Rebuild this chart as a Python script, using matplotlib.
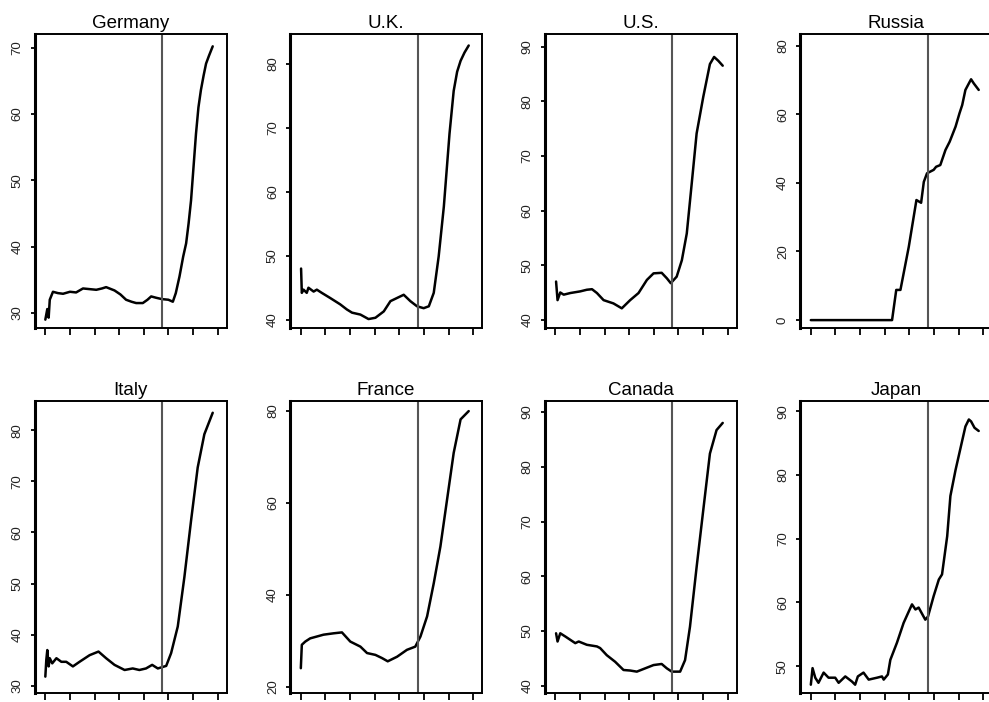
import matplotlib
matplotlib.use("Agg")
import matplotlib.pyplot as plt

plt.rcParams["font.family"] = ["Liberation Sans", "DejaVu Sans"]

countries = ["Germany", "U.K.", "U.S.", "Russia", "Italy", "France", "Canada", "Japan"]

# x is in tick units (ticks at 0..7), cutoff marked by the vertical line
cutoff = 4.74

germany_x = [0, 0.08, 0.135, 0.18, 0.31, 0.51, 0.72, 1.0, 1.25, 1.53, 1.8, 2.07, 2.3, 2.47,
             2.81, 3.05, 3.28, 3.5, 3.69, 3.96, 4.15, 4.30, 4.50, 4.73, 5.0, 5.18, 5.30, 5.45,
             5.60, 5.72, 5.82, 5.92, 6.02, 6.12, 6.22, 6.32, 6.43, 6.53, 6.65, 6.80]
germany_y = [29.0, 30.6, 29.3, 32.0, 33.2, 33.0, 32.9, 33.2, 33.1, 33.7, 33.6, 33.5, 33.7, 33.9,
             33.4, 32.8, 32.0, 31.7, 31.5, 31.5, 32.0, 32.5, 32.3, 32.1, 32.0, 31.7, 33.0, 35.5,
             38.5, 40.5, 43.5, 47.0, 52.0, 57.0, 61.0, 63.6, 65.8, 67.6, 68.8, 70.2]

uk_x = [0.01, 0.04, 0.11, 0.24, 0.31, 0.52, 0.65, 0.85, 1.19, 1.60, 1.87, 2.08, 2.42, 2.75,
        3.03, 3.37, 3.64, 3.91, 4.18, 4.45, 4.72, 4.99, 5.20, 5.40, 5.60, 5.81, 6.04, 6.21,
        6.35, 6.49, 6.65, 6.82]
uk_y = [48.0, 44.2, 44.7, 44.2, 45.0, 44.4, 44.7, 44.2, 43.4, 42.4, 41.6, 41.1, 40.8, 40.1,
        40.3, 41.3, 42.9, 43.4, 43.9, 42.9, 42.1, 41.8, 42.1, 44.2, 49.9, 57.7, 69.1, 75.8,
        78.8, 80.5, 81.8, 82.9]

us_x = [0.03, 0.09, 0.20, 0.34, 0.61, 1.01, 1.28, 1.49, 1.69, 1.96, 2.36, 2.70, 3.04, 3.38,
        3.72, 3.99, 4.32, 4.53, 4.69, 4.93, 5.14, 5.34, 5.54, 5.74, 6.01, 6.28, 6.45, 6.62, 6.80]
us_y = [47.0, 43.6, 45.0, 44.6, 44.9, 45.2, 45.5, 45.6, 44.9, 43.6, 43.0, 42.1, 43.6, 44.9,
        47.3, 48.5, 48.6, 47.6, 46.7, 47.9, 50.9, 55.8, 64.9, 74.1, 80.8, 86.8, 88.1, 87.4, 86.5]

russia_x = [0, 3.30, 3.47, 3.64, 3.98, 4.29, 4.48, 4.59, 4.72, 4.99, 5.09, 5.26, 5.47, 5.64,
            5.88, 6.04, 6.15, 6.28, 6.42, 6.51, 6.62, 6.82]
russia_y = [0.0, 0.0, 8.8, 8.8, 21.4, 35.0, 34.2, 40.3, 42.8, 43.8, 44.7, 45.2, 49.6, 52.0,
            56.4, 60.3, 62.7, 67.1, 69.0, 70.2, 69.0, 67.1]

italy_x = [0, 0.04, 0.08, 0.135, 0.18, 0.28, 0.45, 0.65, 0.85, 1.12, 1.39, 1.80, 2.16, 2.47,
           2.81, 3.22, 3.55, 3.82, 4.09, 4.34, 4.57, 4.91, 5.11, 5.38, 5.65, 5.92, 6.19, 6.46, 6.80]
italy_y = [31.8, 35.1, 37.0, 33.8, 35.4, 34.4, 35.4, 34.7, 34.7, 33.8, 34.7, 36.0, 36.7, 35.4,
           34.1, 33.1, 33.4, 33.1, 33.4, 34.1, 33.4, 33.9, 36.4, 41.6, 51.3, 62.3, 72.7, 79.2, 83.4]

france_x = [0, 0.04, 0.18, 0.38, 0.65, 0.92, 1.33, 1.67, 2.01, 2.42, 2.69, 3.03, 3.30, 3.53,
            3.91, 4.31, 4.65, 4.86, 5.13, 5.40, 5.67, 5.94, 6.21, 6.49, 6.82]
france_y = [24.0, 29.1, 29.8, 30.5, 30.9, 31.3, 31.6, 31.8, 29.8, 28.7, 27.3, 26.9, 26.2, 25.5,
            26.5, 28.0, 28.7, 30.9, 35.3, 42.5, 50.5, 60.7, 70.9, 78.2, 80.0]

canada_x = [0.03, 0.09, 0.20, 0.41, 0.61, 0.81, 0.95, 1.28, 1.69, 1.82, 2.09, 2.43, 2.77, 3.04,
            3.31, 3.65, 3.99, 4.32, 4.53, 4.73, 5.07, 5.27, 5.47, 5.74, 6.01, 6.28, 6.55, 6.80]
canada_y = [49.6, 48.1, 49.6, 49.0, 48.4, 47.8, 48.1, 47.5, 47.2, 46.9, 45.6, 44.4, 42.9, 42.8,
            42.6, 43.2, 43.8, 44.0, 43.2, 42.6, 42.6, 44.7, 50.8, 61.7, 72.1, 82.4, 86.7, 88.0]

japan_x = [0, 0.07, 0.18, 0.31, 0.52, 0.72, 0.99, 1.13, 1.40, 1.67, 1.80, 1.91, 2.14, 2.35,
           2.69, 2.89, 2.96, 3.13, 3.23, 3.50, 3.77, 3.98, 4.11, 4.25, 4.38, 4.65, 4.76, 4.99,
           5.20, 5.33, 5.54, 5.67, 5.88, 6.08, 6.28, 6.42, 6.51, 6.65, 6.82]
japan_y = [47.1, 49.7, 48.2, 47.4, 49.0, 48.2, 48.2, 47.4, 48.4, 47.6, 47.1, 48.4, 49.0, 47.9,
           48.2, 48.4, 47.9, 48.7, 51.0, 53.7, 56.8, 58.6, 59.7, 58.9, 59.2, 57.3, 57.8, 61.0,
           63.6, 64.4, 70.4, 76.7, 80.8, 84.2, 87.6, 88.7, 88.4, 87.4, 86.9]

series_x = [germany_x, uk_x, us_x, russia_x, italy_x, france_x, canada_x, japan_x]
series_y = [germany_y, uk_y, us_y, russia_y, italy_y, france_y, canada_y, japan_y]

y_ticks = [
    [30, 40, 50, 60, 70],
    [40, 50, 60, 70, 80],
    [40, 50, 60, 70, 80, 90],
    [0, 20, 40, 60, 80],
    [30, 40, 50, 60, 70, 80],
    [20, 40, 60, 80],
    [40, 50, 60, 70, 80, 90],
    [50, 60, 70, 80, 90],
]
y_limits = [
    (27.74, 72.06), (38.7, 84.7), (38.5, 92.3), (-2.3, 83.4),
    (28.6, 85.7), (18.6, 82.2), (38.7, 92.0), (45.8, 91.6),
]

W, H = 989, 702
fig = plt.figure(figsize=(W / 100, H / 100), dpi=100)

col_left = [34.5, 290, 544.5, 800]
box_w = 192
rows = [(34, 328), (401, 693)]  # top, bottom in pixels

for i, name in enumerate(countries):
    r, c = divmod(i, 4)
    top, bottom = rows[r]
    ax = fig.add_axes([col_left[c] / W, (H - bottom) / H, box_w / W, (bottom - top) / H])
    ax.plot(series_x[i], series_y[i], color="black", linewidth=1.8,
            solid_joinstyle="round", solid_capstyle="round")
    ax.axvline(cutoff, color="#555555", linewidth=1.5)
    ax.set_xlim(-0.44, 7.36)
    ax.set_ylim(*y_limits[i])
    ax.set_xticks(range(8))
    ax.set_xticklabels([])
    ax.set_yticks(y_ticks[i])
    ax.set_yticklabels([str(t) for t in y_ticks[i]], rotation=90, va="center")
    ax.tick_params(axis="x", length=5, width=1.3, direction="out")
    ax.tick_params(axis="y", length=3, width=1.3, direction="out", pad=5,
                   labelsize=9.5, labelcolor="#222222")
    for side in ["top", "right", "bottom"]:
        ax.spines[side].set_linewidth(1.4)
    ax.spines["left"].set_linewidth(2.2)
    ax.set_title(name, fontsize=13.5, pad=4)

fig.savefig("out.png", dpi=100)
